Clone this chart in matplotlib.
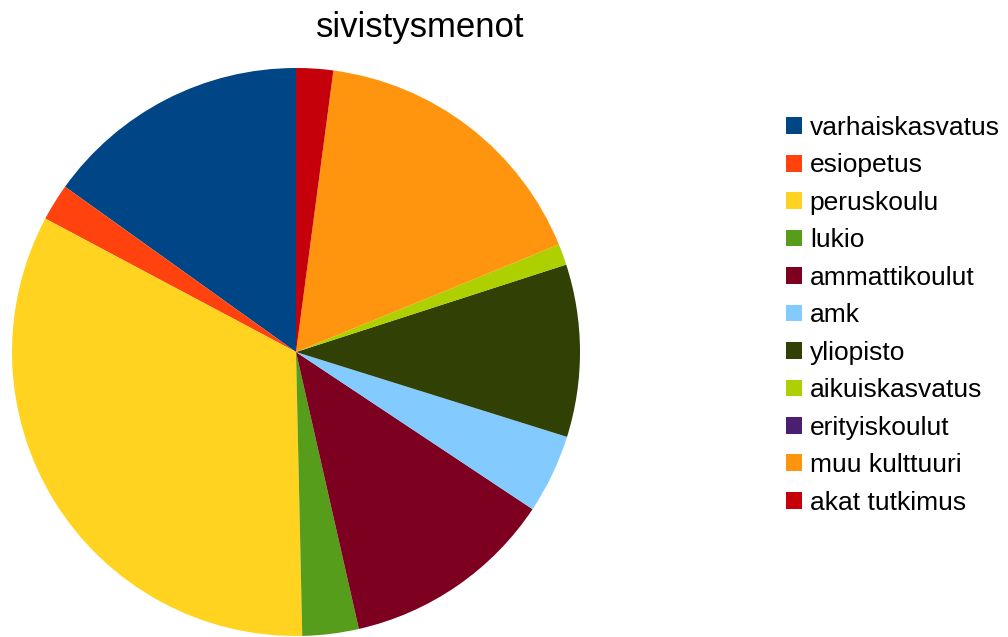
import matplotlib
matplotlib.use('Agg')
import matplotlib.pyplot as plt

plt.rcParams['font.family'] = ['Liberation Sans', 'DejaVu Sans']

# menoerät (osuus %, klo 12:sta vastapäivään)
labels = ['varhaiskasvatus', 'esiopetus', 'peruskoulu', 'lukio', 'ammattikoulut',
          'amk', 'yliopisto', 'aikuiskasvatus', 'erityiskoulut', 'muu kulttuuri',
          'akat tutkimus']
shares = [15.1, 2.1, 33.1, 3.2, 12.1, 4.5, 9.8, 1.2, 0.0, 16.7, 2.1]
colors = ['#004586', '#ff420e', '#ffd320', '#579d1c', '#7e0021', '#83caff',
          '#314004', '#aecf00', '#4b1f6f', '#ff950e', '#c5000b']

fig = plt.figure(figsize=(10.08, 6.37), dpi=100)
ax = fig.add_axes([12 / 1008, 1 / 637, 568 / 1008, 568 / 637])

wedges, _ = ax.pie(shares, colors=colors, startangle=90, counterclock=True,
                   radius=1.0, wedgeprops=dict(linewidth=0))
ax.set_xlim(-1, 1)
ax.set_ylim(-1, 1)
ax.set_aspect('equal')
ax.axis('off')

fig.text(420 / 1008, 1 - 28 / 637, 'sivistysmenot', ha='center', va='center',
         fontsize=25)

fig.legend(wedges, labels, loc='upper left',
           bbox_to_anchor=(786 / 1008, 1 - 116 / 637), frameon=False,
           fontsize=19, handlelength=0.6, handleheight=0.6,
           handletextpad=0.3, labelspacing=0.51, borderpad=0, borderaxespad=0)

fig.savefig('out.png', dpi=100, facecolor='white')
